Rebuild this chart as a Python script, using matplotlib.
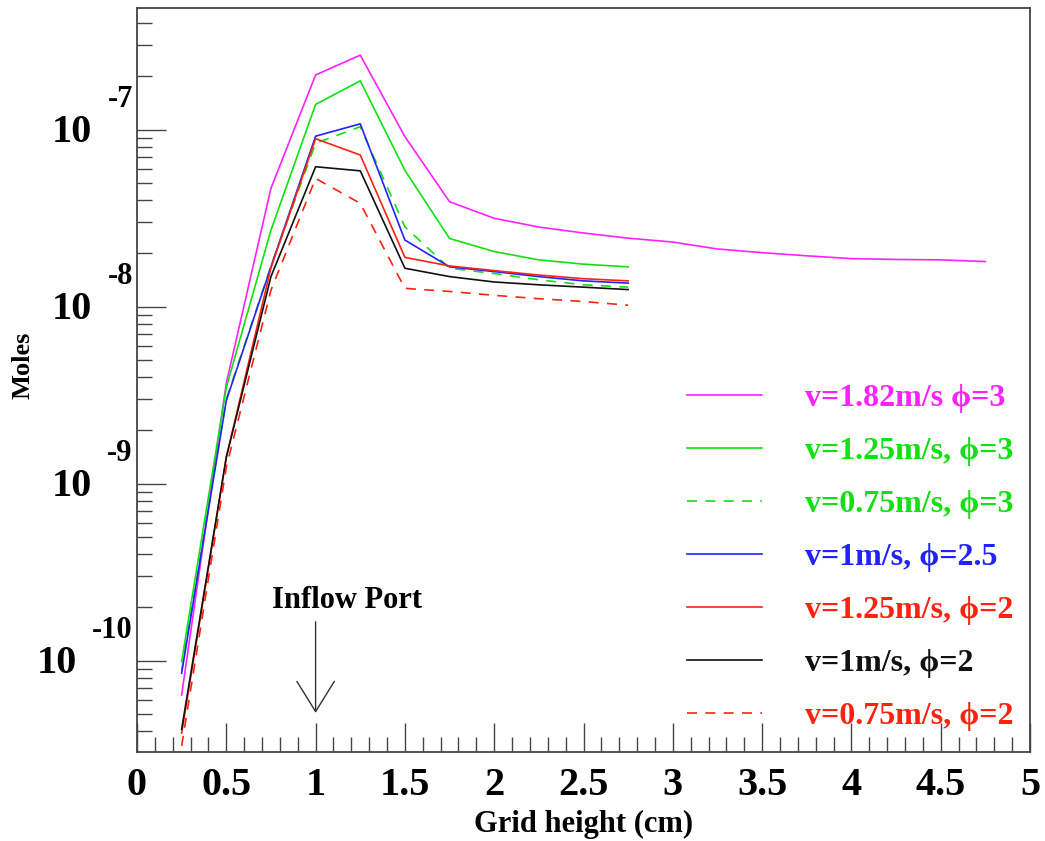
import matplotlib
matplotlib.use('Agg')
import matplotlib.pyplot as plt
from matplotlib.ticker import LogLocator, MultipleLocator, NullFormatter, FixedLocator
from matplotlib.font_manager import FontProperties

plt.rcParams['font.family'] = ['Liberation Serif', 'DejaVu Serif']
plt.rcParams['font.weight'] = 'bold'

# ---------------- data ----------------
x_short = [0.25, 0.5, 0.75, 1.0, 1.25, 1.5, 1.75, 2.0, 2.25, 2.5, 2.75]
x_long = [0.25, 0.5, 0.75, 1.0, 1.25, 1.5, 1.75, 2.0, 2.25, 2.5, 2.75,
          3.0, 3.25, 3.5, 3.75, 4.0, 4.25, 4.5, 4.75]

v182_phi3 = [6.4e-11, 3.7e-9, 4.67e-8, 2.04e-7, 2.64e-7, 9.15e-8, 3.92e-8, 3.16e-8,
             2.82e-8, 2.61e-8, 2.44e-8, 2.32e-8, 2.12e-8, 2.02e-8, 1.94e-8, 1.87e-8,
             1.85e-8, 1.84e-8, 1.80e-8]
v125_phi3 = [9.9e-11, 3.5e-9, 2.71e-8, 1.39e-7, 1.89e-7, 5.9e-8, 2.43e-8, 2.05e-8,
             1.84e-8, 1.74e-8, 1.68e-8]
v075_phi3 = [8.8e-11, 3.0e-9, 1.70e-8, 8.4e-8, 1.04e-7, 2.83e-8, 1.65e-8, 1.54e-8,
             1.42e-8, 1.33e-8, 1.29e-8]
v100_phi25 = [8.5e-11, 2.95e-9, 1.68e-8, 9.2e-8, 1.08e-7, 2.38e-8, 1.68e-8, 1.58e-8,
              1.48e-8, 1.40e-8, 1.36e-8]
v125_phi2 = [3.9e-11, 1.41e-9, 1.66e-8, 8.9e-8, 7.2e-8, 1.90e-8, 1.70e-8, 1.60e-8,
             1.51e-8, 1.44e-8, 1.40e-8]
v100_phi2 = [4.1e-11, 1.41e-9, 1.48e-8, 6.18e-8, 5.86e-8, 1.65e-8, 1.48e-8, 1.38e-8,
             1.33e-8, 1.29e-8, 1.25e-8]
v075_phi2 = [3.3e-11, 1.24e-9, 1.24e-8, 5.31e-8, 3.84e-8, 1.27e-8, 1.22e-8, 1.16e-8,
             1.11e-8, 1.07e-8, 1.02e-8]

labels = ['v=1.82m/s \u03d5=3', 'v=1.25m/s, \u03d5=3', 'v=0.75m/s, \u03d5=3',
          'v=1m/s, \u03d5=2.5', 'v=1.25m/s, \u03d5=2', 'v=1m/s, \u03d5=2',
          'v=0.75m/s, \u03d5=2']

xtick_vals = [0, 0.5, 1, 1.5, 2, 2.5, 3, 3.5, 4, 4.5, 5]
xtick_labels = ['0', '0.5', '1', '1.5', '2', '2.5', '3', '3.5', '4', '4.5', '5']
ytick_exps = [-7, -8, -9, -10]

MAG = '#ff22ff'
GRN = '#11e011'
BLU = '#2222ff'
RED = '#ff2211'
BLK = '#111111'

# ---------------- figure ----------------
fig = plt.figure(figsize=(10.45, 8.41), dpi=100)
ax = fig.add_axes([137 / 1045, 1 - 752 / 841, (1030 - 137) / 1045, (752 - 8) / 841])

lw = 1.2
dash = (0, (6, 5))
ax.plot(x_long, v182_phi3, color=MAG, lw=lw, label=labels[0])
ax.plot(x_short, v125_phi3, color=GRN, lw=lw, label=labels[1])
ax.plot(x_short, v075_phi3, color=GRN, lw=lw, ls=dash, label=labels[2])
ax.plot(x_short, v100_phi25, color=BLU, lw=lw, label=labels[3])
ax.plot(x_short, v125_phi2, color=RED, lw=lw, label=labels[4])
ax.plot(x_short, v100_phi2, color=BLK, lw=lw, label=labels[5])
ax.plot(x_short, v075_phi2, color=RED, lw=lw, ls=dash, label=labels[6])

ax.set_yscale('log')
ax.set_xlim(0, 5)
ax.set_ylim(10 ** -10.516, 10 ** -6.312)

# x axis ticks
ax.xaxis.set_major_locator(FixedLocator(xtick_vals))
ax.set_xticklabels(xtick_labels)
ax.xaxis.set_minor_locator(MultipleLocator(0.1))
ax.tick_params(axis='x', which='major', direction='in', length=21, width=1.0,
               color='#444444', labelsize=29, pad=11, top=False)
ax.tick_params(axis='x', which='minor', direction='in', length=11, width=1.0,
               color='#444444', top=False)

# y axis ticks
ax.yaxis.set_major_locator(FixedLocator([10.0 ** e for e in ytick_exps]))
ax.yaxis.set_minor_locator(LogLocator(base=10, subs=[2, 3, 4, 5, 6, 7, 8, 9], numticks=20))
ax.yaxis.set_major_formatter(NullFormatter())
ax.yaxis.set_minor_formatter(NullFormatter())
ax.tick_params(axis='y', which='major', direction='in', length=21, width=1.0,
               color='#444444', right=False)
ax.tick_params(axis='y', which='minor', direction='in', length=11, width=1.0,
               color='#444444', right=False)

for s in ax.spines.values():
    s.set_color('#444444')
    s.set_linewidth(1.3)

# ROOT-style "10^-n" labels
for e in ytick_exps:
    ex = ax.annotate(f'{e}', xy=(0, 10.0 ** e), xycoords=('axes fraction', 'data'),
                     xytext=(-3, 21.5), textcoords='offset points',
                     ha='right', va='center', fontsize=22, fontweight='bold')
    ax.annotate('10', xy=(0, 0.5), xycoords=ex, xytext=(-11, -23.8),
                textcoords='offset points', ha='right', va='center',
                fontsize=29, fontweight='bold')

# axis titles
ax.set_xlabel('Grid height (cm)', fontsize=22, fontweight='bold')
ax.xaxis.set_label_coords(0.5, (752 - 824) / 744)
ax.xaxis.label.set_va('center')
ax.set_ylabel('Moles', fontsize=19, fontweight='bold')
ax.yaxis.set_label_coords((23 - 137) / 893, (752 - 365) / 744)
ax.yaxis.label.set_va('center')

# inflow annotation
ax.annotate('', xy=(1.0, 5.07e-11), xytext=(1.0, 1.66e-10),
            arrowprops=dict(arrowstyle='->,head_length=1.45,head_width=0.9',
                            color='#333333', lw=1.0, shrinkA=0, shrinkB=0,
                            mutation_scale=15))
ax.text(1.174, 2.2e-10, 'Inflow Port', ha='center', va='center',
        fontsize=22, fontweight='bold', color='black')

# legend
prop = FontProperties(family=['Liberation Serif', 'DejaVu Serif'], weight='bold', size=23)
leg = ax.legend(loc='upper left', bbox_to_anchor=((687 - 137) / 893, (752 - 384) / 744),
                frameon=False, prop=prop, labelcolor='linecolor',
                handlelength=2.35, handletextpad=1.35, labelspacing=0.74,
                borderaxespad=0, borderpad=0)

fig.savefig('out.png', dpi=100)
